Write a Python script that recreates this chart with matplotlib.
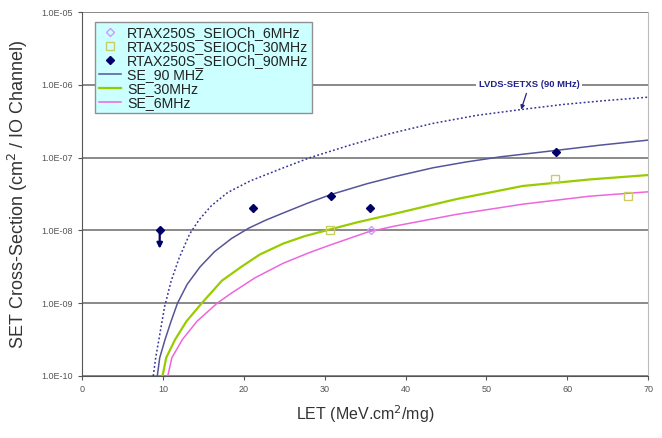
import numpy as np
import matplotlib.pyplot as plt

plt.rcParams['font.family'] = ['Liberation Sans', 'DejaVu Sans']

# measured points
x_90 = [9.6, 21.1, 30.8, 35.6, 58.6]
y_90 = [1e-8, 2e-8, 3e-8, 2e-8, 1.2e-7]
x_30 = [30.7, 58.5, 67.5]
y_30 = [1e-8, 5.1e-8, 3.0e-8]
x_6 = [35.7]
y_6 = [1e-8]

# fitted curves (LET, log10 cross-section)
lvds_x = [8.8, 9.1, 9.5, 10.2, 11.0, 12.0, 13.3, 14.5, 16.0, 18.0, 20.8, 24.9, 28.2,
          33.1, 38.1, 43.4, 48.8, 54.3, 59.5, 64.4, 70.0]
lvds_logy = [-10, -9.75, -9.5, -9.05, -8.7, -8.38, -8.05, -7.85, -7.66, -7.48, -7.32, -7.14,
             -7.0, -6.83, -6.67, -6.53, -6.42, -6.34, -6.27, -6.22, -6.17]
se90_x = [9.3, 9.6, 10.26, 11.0, 11.8, 13.0, 14.6, 16.4, 18.5, 20.6, 22.7, 24.9, 27.8,
          30.7, 35.2, 38.7, 43.4, 47.5, 51.7, 58.7, 64.0, 70.0]
se90_logy = [-10, -9.75, -9.5, -9.25, -9.0, -8.74, -8.5, -8.29, -8.11, -7.97, -7.86, -7.76,
             -7.63, -7.51, -7.36, -7.26, -7.14, -7.06, -6.99, -6.90, -6.83, -6.76]
se30_x = [9.95, 10.4, 11.5, 12.9, 14.8, 17.3, 19.7, 22.0, 24.9, 27.5, 30.2, 34.0, 38.7,
          46.3, 54.5, 62.8, 70.0]
se30_logy = [-10, -9.75, -9.5, -9.25, -9.0, -8.69, -8.5, -8.33, -8.18, -8.08, -8.0, -7.89,
             -7.77, -7.57, -7.39, -7.30, -7.24]
se6_x = [10.6, 11.1, 12.4, 14.2, 16.7, 18.5, 21.4, 24.9, 28.0, 30.7, 35.4, 38.7, 46.3,
         54.5, 62.8, 70.0]
se6_logy = [-10, -9.75, -9.5, -9.25, -9.0, -8.86, -8.65, -8.45, -8.31, -8.2, -8.02, -7.94,
            -7.78, -7.64, -7.53, -7.47]

fig = plt.figure(figsize=(6.62, 4.38), dpi=100)
ax = fig.add_axes([0.124, 0.1416, 0.855, 0.831])

ax.set_yscale('log')
ax.set_xlim(0, 70)
ax.set_ylim(1e-10, 1e-5)

# gridlines at each decade
for d in range(-10, -4):
    ax.axhline(10.0 ** d, color='#808080', lw=1.3, zorder=1)

ax.plot(lvds_x, 10.0 ** np.array(lvds_logy), color='#333399', lw=1.1,
        linestyle=(0, (1.2, 1.5)), zorder=2)
l90, = ax.plot(se90_x, 10.0 ** np.array(se90_logy), color='#555599', lw=1.1, zorder=3,
               label='SE_90 MHZ')
l30, = ax.plot(se30_x, 10.0 ** np.array(se30_logy), color='#99cc00', lw=1.6, zorder=3,
               label='SE_30MHz')
l6, = ax.plot(se6_x, 10.0 ** np.array(se6_logy), color='#ee66dd', lw=1.1, zorder=3,
              label='SE_6MHz')

m6, = ax.plot(x_6, y_6, linestyle='none', marker='D', ms=4.5, mfc='none',
              mec='#cc99ff', mew=1.0, zorder=4, label='RTAX250S_SEIOCh_6MHz')
m30, = ax.plot(x_30, y_30, linestyle='none', marker='s', ms=5.5, mfc='none',
               mec='#cccc66', mew=1.0, zorder=4, label='RTAX250S_SEIOCh_30MHz')
m90, = ax.plot(x_90, y_90, linestyle='none', marker='D', ms=4.5, color='#000066',
               zorder=5, label='RTAX250S_SEIOCh_90MHz')

# upper limit arrow on the first 90 MHz point
ax.annotate('', xy=(x_90[0], 5.6e-9), xytext=(x_90[0], y_90[0]),
            arrowprops=dict(arrowstyle='-|>', color='#000066', lw=1.6,
                            mutation_scale=8, shrinkA=0, shrinkB=0), zorder=5)

ax.annotate('LVDS-SETXS (90 MHz)', xy=(54.3, 10 ** -6.34), xytext=(55.3, 1e-6),
            fontsize=6.8, fontweight='bold', color='#222288', ha='center', va='center',
            bbox=dict(boxstyle='square,pad=0.3', fc='white', ec='none'),
            arrowprops=dict(arrowstyle='-|>', color='#222288', lw=0.9,
                            mutation_scale=6, shrinkA=1, shrinkB=0), zorder=6)

leg = ax.legend(handles=[m6, m30, m90, l90, l30, l6], loc='upper left',
                bbox_to_anchor=(0.023, 0.972), fontsize=10.2, frameon=True,
                fancybox=False, framealpha=1, labelspacing=0.0,
                handlelength=1.6, handletextpad=0.4, borderpad=0.25,
                borderaxespad=0)
leg.get_frame().set_facecolor('#ccffff')
leg.get_frame().set_edgecolor('#909090')
leg.get_frame().set_linewidth(1.0)
for t in leg.get_texts():
    t.set_color('#222222')

ax.set_xticks(range(0, 71, 10))
ax.set_yticks([10.0 ** d for d in range(-10, -4)])
ax.set_yticklabels(['1.0E-10', '1.0E-09', '1.0E-08', '1.0E-07', '1.0E-06', '1.0E-05'])
ax.yaxis.set_minor_locator(plt.NullLocator())
ax.tick_params(axis='both', labelsize=6.5, labelcolor='#555555', color='#555555',
               length=3, width=0.8)

ax.spines['top'].set_visible(False)
ax.spines['right'].set_color('#bbbbbb')
ax.spines['left'].set_color('#555555')
ax.spines['bottom'].set_color('#555555')

ax.set_xlabel('LET (MeV.cm$^2$/mg)', fontsize=11.5, color='#333333', labelpad=7)
ax.set_ylabel('SET Cross-Section (cm$^2$ / IO Channel)', fontsize=13, color='#333333',
              labelpad=8)

plt.savefig('out.png', dpi=100)
